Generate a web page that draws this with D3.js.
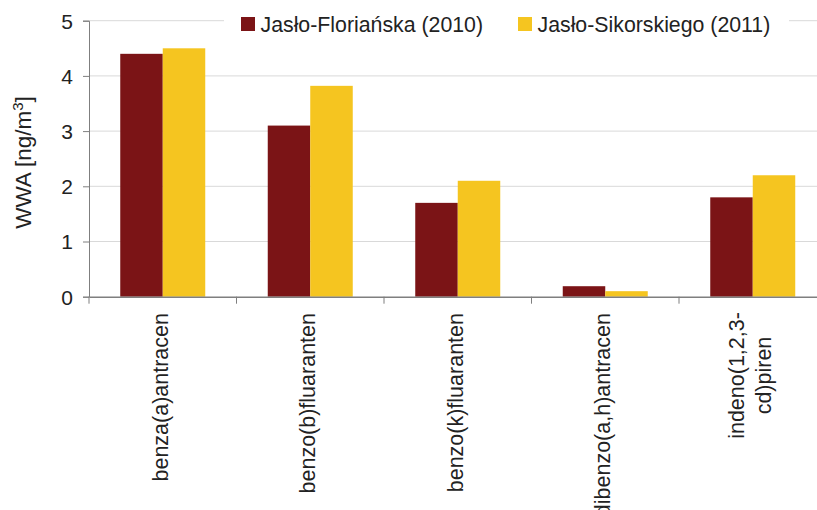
<!DOCTYPE html>
<html><head><meta charset="utf-8">
<script src="https://cdn.jsdelivr.net/npm/d3@7"></script>
<style>body{margin:0;background:#fff}svg{display:block}text{font-family:"Liberation Sans",Arial,sans-serif;fill:#222}</style>
</head><body><svg id="c" width="817" height="510"></svg>
<script>
const categories = ["benza(a)antracen","benzo(b)fluaranten","benzo(k)fluaranten","dibenzo(a,h)antracen","indeno(1,2,3-|cd)piren"];
const seriesNames = ["Jasło-Floriańska (2010)","Jasło-Sikorskiego (2011)"];
const florianska = [4.4, 3.1, 1.7, 0.19, 1.8];
const sikorskiego = [4.5, 3.82, 2.1, 0.1, 2.2];
const yTicks = [0,1,2,3,4,5];
const colors = ["#7B1416","#F5C520"];

(function(){
const svg = d3.select("#c");
const mLeft = 89, mRight = 826.5, mTop = 20.7, mBottom = 296.7;
const x = d3.scaleBand().domain(categories).range([mLeft,mRight]).paddingInner(0).paddingOuter(0);
const y = d3.scaleLinear().domain([0,5]).range([mBottom,mTop]);
const xs = d3.scaleBand().domain([0,1]).range([0,85]);
const groupOff = (x.bandwidth()-85)/2;

svg.append("g").selectAll("line").data(yTicks.filter(d=>d>0)).join("line")
  .attr("x1",mLeft).attr("x2",817).attr("y1",d=>y(d)).attr("y2",d=>y(d))
  .attr("stroke","#d9d9d9").attr("stroke-width",1);

const series = [florianska, sikorskiego];
series.forEach((vals,si)=>{
  svg.append("g").selectAll("rect").data(vals).join("rect")
    .attr("x",(d,i)=>x(categories[i])+groupOff+xs(si))
    .attr("width",xs.bandwidth())
    .attr("y",d=>y(d)).attr("height",d=>mBottom-y(d))
    .attr("fill",colors[si]);
});

const yAxis = d3.axisLeft(y).tickValues(yTicks).tickSize(6).tickPadding(10).tickFormat(d3.format("d"));
const ga = svg.append("g").attr("transform",`translate(${mLeft},0)`).call(yAxis);
ga.select(".domain").attr("stroke","#7f7f7f");
ga.selectAll(".tick line").attr("stroke","#7f7f7f");
ga.selectAll(".tick text").style("font-size","21px").style("font-family","'Liberation Sans',Arial,sans-serif").attr("fill","#222").attr("dy","0.35em");

const xAxis = d3.axisBottom(x).tickSize(0).tickFormat("");
const gx = svg.append("g").attr("transform",`translate(0,${mBottom})`).call(xAxis);
gx.select(".domain").attr("stroke","#7f7f7f").attr("stroke-width",1.5);
gx.selectAll(".tick").remove();
const bounds = categories.map(c=>x(c)).concat([mRight]);
gx.selectAll("line.sep").data(bounds).join("line").attr("class","sep")
  .attr("x1",d=>d).attr("x2",d=>d).attr("y1",0).attr("y2",7).attr("stroke","#7f7f7f");

const fs = "21.5px";
categories.forEach(c=>{
  const lines = c.split("|");
  const cx = x(c)+x.bandwidth()/2;
  if(lines.length===1){
    svg.append("text").attr("transform",`translate(${cx+5},313) rotate(-90)`)
      .attr("text-anchor","end").style("font-size",fs).text(lines[0]);
  } else {
    lines.forEach((l,i)=>{
      const off = (i-(lines.length-1)/2)*27;
      svg.append("text").attr("transform",`translate(${cx+5+off},375.5) rotate(-90)`)
        .attr("text-anchor","middle").style("font-size",fs).text(l);
    });
  }
});

const yt = svg.append("text").attr("transform","translate(30.5,162.5) rotate(-90)")
  .attr("text-anchor","middle").style("font-size","22.5px");
yt.append("tspan").text("WWA [ng/m");
yt.append("tspan").text("3").attr("dy","-8").style("font-size","15px");
yt.append("tspan").text("]").attr("dy","8");

svg.append("rect").attr("x",224).attr("y",8).attr("width",565).attr("height",26).attr("fill","#fff");
const legX = [241, 518];
seriesNames.forEach((n,i)=>{
  svg.append("rect").attr("x",legX[i]).attr("y",17).attr("width",14).attr("height",14).attr("fill",colors[i]);
  svg.append("text").attr("x",legX[i]+19.5).attr("y",31.7).style("font-size","21.3px").text(n);
});
})();
</script></body></html>
